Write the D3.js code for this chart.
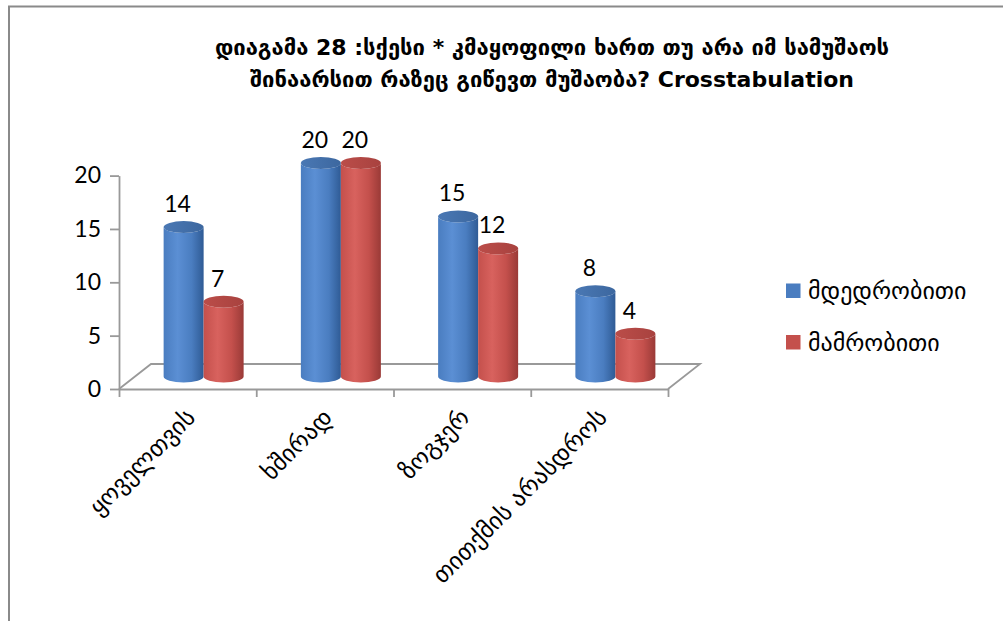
<!DOCTYPE html>
<html>
<head>
<meta charset="utf-8">
<script src="https://cdn.jsdelivr.net/npm/d3@7"></script>
<style>
  html, body { margin: 0; padding: 0; background: #ffffff; }
  svg { display: block; }
</style>
</head>
<body>
<svg id="chart" width="1003" height="621"></svg>
<script>
// Survey answers by gender
const categories = ["ყოველთვის", "ხშირად", "ზოგჯერ", "თითქმის არასდროს"];
const seriesNames = ["მდედრობითი", "მამრობითი"];
const femaleValues = [14, 20, 15, 8];
const maleValues = [7, 20, 12, 4];
const yTickValues = [0, 5, 10, 15, 20];
const titleLines = [
  "დიაგამა 28 :სქესი * კმაყოფილი ხართ თუ არა იმ სამუშაოს",
  "შინაარსით რაზეც გიწევთ მუშაობა? Crosstabulation"
];

const seriesValues = [femaleValues, maleValues];
const seriesColors = [
  { light: "#5b8fd4", mid: "#4a7dc0", dark: "#2f5b95", top: "#3c679f", topLight: "#4a78b4" },
  { light: "#d8625e", mid: "#c4504c", dark: "#9a3a37", top: "#a8423f", topLight: "#bb4d49" }
];

const svg = d3.select("#chart");
const numFont = "Lato, 'Open Sans', sans-serif";
const geoFont = "'DejaVu Sans', sans-serif";

// frame lines
svg.append("path")
  .attr("d", "M9,621 L9,6.5 L1003,6.5")
  .attr("fill", "none").attr("stroke", "#8a8a8a").attr("stroke-width", 2);

// title
const title = svg.append("text")
  .attr("text-anchor", "middle")
  .attr("font-family", geoFont)
  .attr("font-weight", "bold")
  .attr("font-size", 22)
  .attr("fill", "#000");
titleLines.forEach((t, i) => {
  title.append("tspan").attr("x", 552).attr("y", 55 + i * 32).text(t);
});

// plot geometry
const frontLeft = 119, frontRight = 668, floorY = 389;
const depthX = 32, depthY = -25;

const x = d3.scaleBand().domain(categories).range([frontLeft, frontRight]).paddingInner(0).paddingOuter(0);
const xEdge = d3.scaleLinear().domain([0, categories.length]).range([frontLeft, frontRight]);
const y = d3.scaleLinear().domain([0, 20]).range([floorY, 175.6]);
const xs = d3.scaleBand().domain(seriesNames).range([-40, 40]);

// floor
const axisColor = "#999";
svg.append("path")
  .attr("d", `M${frontLeft},${floorY} L${frontLeft + depthX},${floorY + depthY} L${frontRight + depthX},${floorY + depthY} L${frontRight},${floorY}`)
  .attr("fill", "none").attr("stroke", axisColor).attr("stroke-width", 1.8);

// y axis
const yAxis = svg.append("g")
  .attr("transform", `translate(${frontLeft},0)`)
  .call(d3.axisLeft(y).tickValues(yTickValues).tickSize(9).tickSizeOuter(0).tickPadding(9));
yAxis.select(".domain").attr("stroke", axisColor).attr("stroke-width", 1.8);
yAxis.selectAll(".tick line").attr("stroke", axisColor).attr("stroke-width", 1.8);
yAxis.selectAll(".tick text")
  .attr("font-family", numFont).attr("font-size", 23).attr("fill", "#000");

// x axis (category boundaries)
const xAxis = svg.append("g")
  .attr("transform", `translate(0,${floorY})`)
  .call(d3.axisBottom(xEdge).tickValues(d3.range(categories.length + 1)).tickFormat("").tickSize(8).tickSizeOuter(0));
xAxis.select(".domain").attr("stroke", axisColor).attr("stroke-width", 1.8);
xAxis.selectAll(".tick line").attr("stroke", axisColor).attr("stroke-width", 1.8);

// category labels
svg.append("g").selectAll("text")
  .data(categories)
  .join("text")
  .attr("transform", d => `translate(${x(d) + x.bandwidth() / 2 + 9},${floorY + 30}) rotate(-45)`)
  .attr("text-anchor", "end")
  .attr("font-family", geoFont)
  .attr("font-size", 24)
  .attr("fill", "#000")
  .text(d => d);

// gradients for cylinders
const defs = svg.append("defs");
seriesColors.forEach((c, i) => {
  const g = defs.append("linearGradient").attr("id", `body${i}`).attr("x1", 0).attr("x2", 1).attr("y1", 0).attr("y2", 0);
  g.append("stop").attr("offset", "0%").attr("stop-color", c.mid);
  g.append("stop").attr("offset", "35%").attr("stop-color", c.light);
  g.append("stop").attr("offset", "70%").attr("stop-color", c.mid);
  g.append("stop").attr("offset", "100%").attr("stop-color", c.dark);
  const t = defs.append("linearGradient").attr("id", `top${i}`).attr("x1", 0).attr("x2", 1).attr("y1", 0).attr("y2", 0);
  t.append("stop").attr("offset", "0%").attr("stop-color", c.topLight);
  t.append("stop").attr("offset", "100%").attr("stop-color", c.top);
});

// cylinders
const rx = 20, ry = 6;
const barDX = depthX / 2, barDY = depthY / 2;
const bars = [];
seriesNames.forEach((s, si) => {
  categories.forEach((c, ci) => {
    const v = seriesValues[si][ci];
    const cx = x(c) + x.bandwidth() / 2 + barDX + xs(s) + xs.bandwidth() / 2;
    const by = y(0) + barDY;
    const ty = y(v) + barDY;
    bars.push({ si, ci, v, cx, by, ty });
  });
});
bars.sort((a, b) => a.ci - b.ci || a.si - b.si);

const barG = svg.append("g");
barG.selectAll("path.body")
  .data(bars)
  .join("path")
  .attr("class", "body")
  .attr("d", d => `M${d.cx - rx},${d.ty} L${d.cx - rx},${d.by} A${rx},${ry} 0 0 0 ${d.cx + rx},${d.by} L${d.cx + rx},${d.ty} A${rx},${ry} 0 0 1 ${d.cx - rx},${d.ty} Z`)
  .attr("fill", d => `url(#body${d.si})`);
barG.selectAll("ellipse.top")
  .data(bars)
  .join("ellipse")
  .attr("class", "top")
  .attr("cx", d => d.cx).attr("cy", d => d.ty)
  .attr("rx", rx).attr("ry", ry)
  .attr("fill", d => `url(#top${d.si})`);

// value labels
svg.append("g").selectAll("text")
  .data(bars)
  .join("text")
  .attr("x", d => d.cx - 6)
  .attr("y", d => d.ty - 15)
  .attr("text-anchor", "middle")
  .attr("font-family", numFont)
  .attr("font-size", 23)
  .attr("fill", "#000")
  .text(d => d.v);

// legend
const legend = svg.append("g");
seriesNames.forEach((s, i) => {
  const ly = 291 + i * 51.5;
  legend.append("rect")
    .attr("x", 786).attr("y", ly - 7.5).attr("width", 14.5).attr("height", 14.5)
    .attr("fill", seriesColors[i].mid);
  legend.append("text")
    .attr("x", 808).attr("y", ly).attr("dy", "0.35em")
    .attr("font-family", geoFont).attr("font-size", 24).attr("fill", "#000")
    .text(s);
});
</script>
</body>
</html>
